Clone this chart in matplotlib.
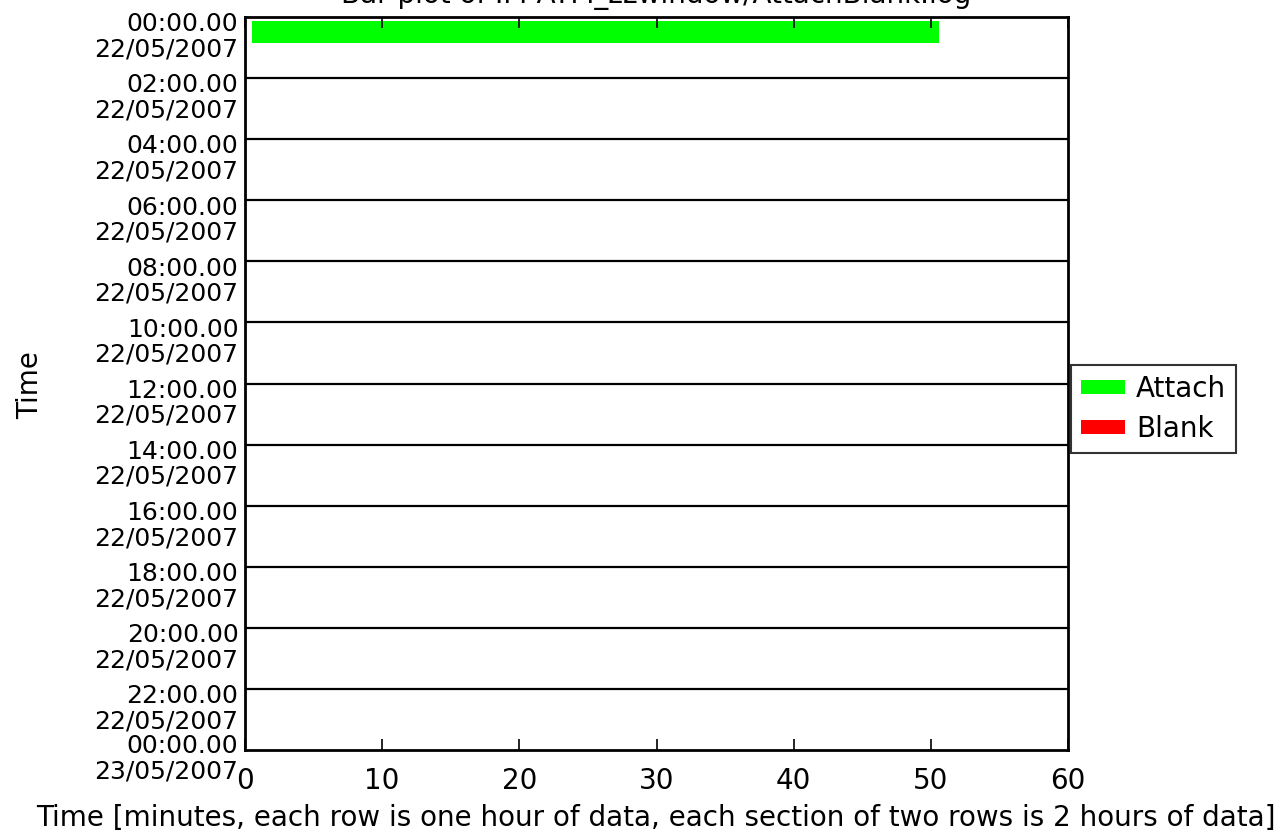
import matplotlib
matplotlib.use('Agg')
import matplotlib.pyplot as plt
from matplotlib.patches import Patch
import matplotlib.transforms as mtransforms

# 每一列代表一小時的資料
bar_hours = [0]
bar_start = [0.5]
bar_end = [50.6]
bar_colors = ['#00ff00']

legend_names = ['Attach', 'Blank']
legend_colors = ['#00ff00', '#ff0000']

section_times = ['00:00.00', '02:00.00', '04:00.00', '06:00.00', '08:00.00', '10:00.00',
                 '12:00.00', '14:00.00', '16:00.00', '18:00.00', '20:00.00', '22:00.00',
                 '00:00.00']
section_dates = ['22/05/2007'] * 12 + ['23/05/2007']

title = 'Bar plot of IM-ATM_zzwindow/AttachBlank.log'
xlabel = 'Time [minutes, each row is one hour of data, each section of two rows is 2 hours of data]'

fs = 20
fs_y = 18

fig = plt.figure(figsize=(12.84, 8.34), dpi=100)
ax = fig.add_axes([245 / 1284, 1 - 750 / 834, (1068 - 245) / 1284, (750 - 17) / 834])

for h, s, e, c in zip(bar_hours, bar_start, bar_end, bar_colors):
    ax.barh(h + 0.5, e - s, left=s, height=0.72, color=c, edgecolor='none')

ax.set_xlim(0, 60)
ax.set_ylim(24, 0)

# 每兩小時一條分隔線
for k in range(1, 12):
    ax.axhline(2 * k, color='black', lw=1.6)

for sp in ax.spines.values():
    sp.set_linewidth(2)

ax.set_xticks(range(0, 61, 10))
ax.set_xticklabels([str(v) for v in range(0, 61, 10)], fontsize=fs)
ax.tick_params(axis='x', direction='in', length=8, width=1.2, top=True, pad=12)
ax.set_yticks([])

# y 軸標籤（時間 + 日期，兩行）
trans = mtransforms.blended_transform_factory(ax.transAxes, ax.transData)
for i, (t, d) in enumerate(zip(section_times, section_dates)):
    y = 2 * i
    if i < 12:
        ax.text(-0.008, y + 0.24, t, transform=trans, ha='right', va='center', fontsize=fs_y)
        ax.text(-0.008, y + 1.06, d, transform=trans, ha='right', va='center', fontsize=fs_y)
    else:
        ax.text(-0.008, y - 0.12, t, transform=trans, ha='right', va='center', fontsize=fs_y)
        ax.text(-0.008, y + 0.72, d, transform=trans, ha='right', va='center', fontsize=fs_y)

fig.text(30 / 1284, 1 - 385 / 834, 'Time', rotation=90, ha='center', va='center', fontsize=fs)
fig.text(656 / 1284, 1 - 818 / 834, xlabel, ha='center', va='center', fontsize=fs)
fig.text(656 / 1284, 1 + 4 / 834, title, ha='center', va='center', fontsize=fs)

handles = [Patch(facecolor=c, label=n) for n, c in zip(legend_names, legend_colors)]
leg = fig.legend(handles=handles, loc='center left', bbox_to_anchor=(1071 / 1284, 1 - 409 / 834),
                 fontsize=fs, frameon=True, fancybox=False, edgecolor='black', borderaxespad=0,
                 handlelength=1.6, handleheight=0.4, borderpad=0.35, labelspacing=0.45,
                 handletextpad=0.4)
leg.get_frame().set_linewidth(1.5)

fig.savefig('out.png', dpi=100)
